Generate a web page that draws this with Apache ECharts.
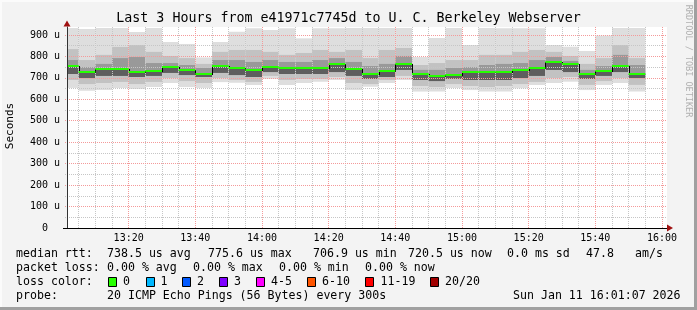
<!DOCTYPE html>
<html><head><meta charset="utf-8">
<script src="https://cdn.jsdelivr.net/npm/echarts@6/dist/echarts.min.js"></script>
<style>html,body{margin:0;padding:0;background:#f3f3f3}#c{width:697px;height:310px}</style>
</head><body><div id="c"></div>
<script>
// ---- data (minutes after 13:00, values in microseconds) ----
const colStartMinutes = [0,5,10,15,20,25,30,35,40,45,50,55,60,65,70,75,80,85,90,95,100,105,110,115,120,125,130,135,140,145,150,155,160,165,170];
const rttMax    = [932,928,932,932,914,932,867,858,795,867,915,931,923,931,884,931,931,932,932,932,932,797,886,932,853,932,931,931,931,853,845,825,897,932,932];
const rttP10    = [834,783,807,844,853,821,802,792,765,821,830,830,821,807,816,830,821,830,792,830,839,760,769,783,783,807,807,821,830,821,802,765,792,853,792];
const rttP25    = [783,750,765,792,797,769,769,760,746,783,783,774,783,774,774,783,792,774,755,765,802,737,737,746,750,760,765,769,783,797,779,737,755,807,760];
const rttMedian = [755,729,743,743,729,733,751,738,719,755,746,738,752,746,746,746,763,743,719,733,763,719,707,715,729,729,725,737,744,776,763,716,733,755,720];
const rttP75    = [718,699,709,709,704,709,723,713,704,723,713,704,727,718,718,718,727,709,695,704,737,690,685,695,690,690,690,699,709,737,727,695,709,727,699];
const rttP90    = [690,671,676,681,671,681,699,685,676,699,690,681,709,690,695,695,704,676,671,690,709,662,657,671,662,657,662,671,681,699,704,667,685,699,667];
const rttMin    = [653,640,643,653,648,657,676,657,653,680,677,667,695,667,676,682,690,643,659,676,690,636,636,653,643,636,636,651,667,676,682,643,667,676,636];

const xTickMinutes = [20,40,60,80,100,120,140,160,180];
const xTickLabels  = ['13:20','13:40','14:00','14:20','14:40','15:00','15:20','15:40','16:00'];
const yTickValues  = [0,100,200,300,400,500,600,700,800,900];
const yTickLabels  = ['0  ','100 u','200 u','300 u','400 u','500 u','600 u','700 u','800 u','900 u'];

const titleText = 'Last 3 Hours from e41971c7745d to U. C. Berkeley Webserver';
const rowLabels = ['median rtt:','packet loss:','loss color:','probe:'];
const rttStats  = ['738.5 us avg','775.6 us max','706.9 us min','720.5 us now','0.0 ms sd','47.8','am/s'];
const lossStats = ['0.00 % avg','0.00 % max','0.00 % min','0.00 % now'];
const lossLegendLabels = ['0','1','2','3','4-5','6-10','11-19','20/20'];
const lossLegendColors = ['#26ff00','#00b8ff','#0059ff','#7e00ff','#ff00ff','#ff5500','#ff0000','#a10000'];
const probeText = '20 ICMP Echo Pings (56 Bytes) every 300s';
const dateText  = 'Sun Jan 11 16:01:07 2026';

// ---- layout ----
const X_MIN = 1.5, X_MAX = 181.5, Y_MAX = 937, STEP = 5;
const PLOT_L = 67, PLOT_R = 667, PLOT_T = 27, PLOT_B = 228, W = 697, H = 310;
const PX_PER_MIN = (PLOT_R - PLOT_L) / (X_MAX - X_MIN);
const PX_PER_U = (PLOT_B - PLOT_T) / Y_MAX;
const MONO = '"DejaVu Sans Mono", monospace';
const smokeColors = ['#dedede','#c2c2c2','#999999','#5e5e5e'];
const MAJOR = '#f49a9a', MINOR = '#c6c6c6';

const chart = echarts.init(document.getElementById('c'), null, {renderer:'canvas'});

const smokeData = colStartMinutes.map((m,i)=>[m, rttMax[i], rttP10[i], rttP25[i], rttMedian[i], rttP75[i], rttP90[i], rttMin[i]]);
const medData = colStartMinutes.map((m,i)=>[m, rttMedian[i], i>0 ? rttMedian[i-1] : rttMedian[i]]);

function smokeRender(params, api){
  const x0 = Math.max(api.value(0), X_MIN), x1 = api.value(0) + STEP;
  const v = [1,2,3,4,5,6,7].map(d=>api.value(d));
  function band(hi, lo, color){
    const a = api.coord([x0, hi]), b = api.coord([x1, lo]);
    return {type:'rect', shape:{x:a[0], y:a[1], width:b[0]-a[0], height:b[1]-a[1]}, style:{fill:color}};
  }
  return {type:'group', children:[
    band(v[0], v[6], smokeColors[0]),
    band(v[1], v[5], smokeColors[1]),
    band(v[2], v[4], smokeColors[2]),
    band(v[3], v[4], smokeColors[3])
  ]};
}
function medianRender(params, api){
  const x0 = Math.max(api.value(0), X_MIN), x1 = api.value(0) + STEP;
  const a = api.coord([x0, api.value(1)]), b = api.coord([x1, api.value(1)]);
  const p = api.coord([api.value(0), api.value(2)]);
  const ya = Math.round(a[1]), yp = Math.round(p[1]);
  const children = [];
  if (params.dataIndex > 0) {
    const xx = Math.round(a[0]);
    children.push({type:'rect', z2:1, shape:{x:xx, y:Math.min(yp, ya), width:1, height:Math.abs(yp-ya)+1}, style:{fill:'#000'}});
  }
  children.push({type:'rect', z2:2, shape:{x:a[0], y:ya-1, width:b[0]-a[0], height:2}, style:{fill:'#26ff00'}});
  return {type:'group', children};
}

// helper grids that only carry dotted grid lines
const minorLeft = PLOT_L + (5 - X_MIN) * PX_PER_MIN;
const majorLeft = PLOT_L + (20 - X_MIN) * PX_PER_MIN;
const gridRight = W - (PLOT_L + (180 - X_MIN) * PX_PER_MIN);
const hTop = PLOT_B - 900 * PX_PER_U;

const g = [];
g.push({type:'rect', shape:{x:0,y:0,width:697,height:2}, style:{fill:'#fbfbfb'}, z:100});
g.push({type:'rect', shape:{x:0,y:0,width:2,height:310}, style:{fill:'#fbfbfb'}, z:100});
g.push({type:'rect', shape:{x:694,y:0,width:3,height:310}, style:{fill:'#a0a0a0'}, z:100});
g.push({type:'rect', shape:{x:0,y:307,width:697,height:3}, style:{fill:'#a0a0a0'}, z:100});
function txt(text, x, y, size, opts){
  return Object.assign({type:'text', x:x, y:y, z:100, style:Object.assign({text:text, fill:'#000', font: size+'px '+MONO, textAlign:'left', textVerticalAlign:'middle'}, (opts&&opts.style)||{})}, (opts&&opts.el)||{});
}
g.push(txt(titleText, 348.5, 19, 13.3, {style:{textAlign:'center'}}));
g.push(txt('Seconds', 10.5, 126, 11, {style:{textAlign:'center'}, el:{rotation:Math.PI/2}}));
g.push(txt('RRDTOOL / TOBI OETIKER', 688, 61, 8.5, {style:{textAlign:'center', fill:'#b0b0b0'}, el:{rotation:-Math.PI/2}}));
g.push({type:'polygon', shape:{points:[[63.5,26.5],[70.5,26.5],[67,20.5]]}, style:{fill:'#a01010'}, z:100});
g.push({type:'polygon', shape:{points:[[667,224.5],[667,231.5],[673,228]]}, style:{fill:'#a01010'}, z:100});
g.push({type:'rect', shape:{x:63,y:228,width:4,height:1}, style:{fill:'#000'}, z:100});
const rowY = [254, 268, 282, 296];
rowLabels.forEach((t,i)=>g.push(txt(t, 16, rowY[i], 11.6)));
const rttX = [107, 208, 313, 408, 507, 586, 635];
rttStats.forEach((t,i)=>g.push(txt(t, rttX[i], rowY[0], 11.6)));
const lossX = [107, 193, 279, 365];
lossStats.forEach((t,i)=>g.push(txt(t, lossX[i], rowY[1], 11.6)));
const boxX = [108, 146, 182, 219, 256, 307, 365, 430];
const boxLabelX = [123, 160.5, 197, 234, 271, 322, 380.5, 445];
lossLegendLabels.forEach((t,i)=>{
  g.push({type:'rect', shape:{x:boxX[i]+0.5, y:277.5, width:8, height:9}, style:{fill:lossLegendColors[i], stroke:'#000', lineWidth:1}, z:100});
  g.push(txt(t, boxLabelX[i], rowY[2], 11.6));
});
g.push(txt(probeText, 107, rowY[3], 11.6));
g.push(txt(dateText, 513, rowY[3], 11.6));

const hidden = {axisLine:{show:false}, axisTick:{show:false}, axisLabel:{show:false}};

chart.setOption({
  animation:false,
  backgroundColor:'#f3f3f3',
  grid:[
    {left:PLOT_L, right:W-PLOT_R, top:PLOT_T, bottom:H-PLOT_B, show:true, backgroundColor:'#ffffff', borderWidth:0, z:0},
    {left:minorLeft, right:gridRight, top:PLOT_T, bottom:H-PLOT_B},
    {left:majorLeft, right:gridRight, top:PLOT_T, bottom:H-PLOT_B},
    {left:PLOT_L-2, right:W-PLOT_R, top:hTop, bottom:H-PLOT_B}
  ],
  xAxis:[
    {gridIndex:0, type:'value', min:X_MIN, max:X_MAX, z:20,
      axisLine:{show:true, onZero:false, lineStyle:{color:'#000', width:1}},
      axisTick:{show:false}, splitLine:{show:false},
      axisLabel:{customValues:xTickMinutes, margin:5, color:'#000', fontFamily:MONO, fontSize:10,
        formatter:(v)=>xTickLabels[xTickMinutes.indexOf(v)] || ''}},
    Object.assign({gridIndex:1, type:'value', min:5, max:180, interval:5, z:3,
      splitLine:{show:true, lineStyle:{color:MINOR, width:1, type:[1,1]}}}, hidden),
    Object.assign({gridIndex:2, type:'value', min:20, max:180, interval:20, z:4,
      splitLine:{show:true, lineStyle:{color:MAJOR, width:1, type:[1,1]}}}, hidden),
    Object.assign({gridIndex:3, type:'value', min:0, max:1, splitLine:{show:false}}, hidden)
  ],
  yAxis:[
    {gridIndex:0, type:'value', min:0, max:Y_MAX, z:20,
      axisLine:{show:true, lineStyle:{color:'#333', width:1}},
      axisTick:{show:false}, splitLine:{show:false},
      axisLabel:{customValues:yTickValues, margin:7, color:'#000', fontFamily:MONO, fontSize:10,
        formatter:(v)=>yTickLabels[yTickValues.indexOf(v)] || ''}},
    Object.assign({gridIndex:1, type:'value', min:0, max:1, splitLine:{show:false}}, hidden),
    Object.assign({gridIndex:2, type:'value', min:0, max:1, splitLine:{show:false}}, hidden),
    Object.assign({gridIndex:3, type:'value', min:0, max:900, interval:100, z:4,
      splitLine:{show:true, lineStyle:{color:MAJOR, width:1, type:[1,1]}},
      minorTick:{show:false, splitNumber:2},
      minorSplitLine:{show:true, lineStyle:{color:MINOR, width:1, type:[1,1]}}}, hidden)
  ],
  graphic:g,
  series:[
    {type:'custom', name:'smoke', xAxisIndex:0, yAxisIndex:0, renderItem:smokeRender, data:smokeData, clip:true, z:2, silent:true},
    {type:'custom', name:'median', xAxisIndex:0, yAxisIndex:0, renderItem:medianRender, data:medData, clip:true, z:12, silent:true}
  ]
});
</script></body></html>
